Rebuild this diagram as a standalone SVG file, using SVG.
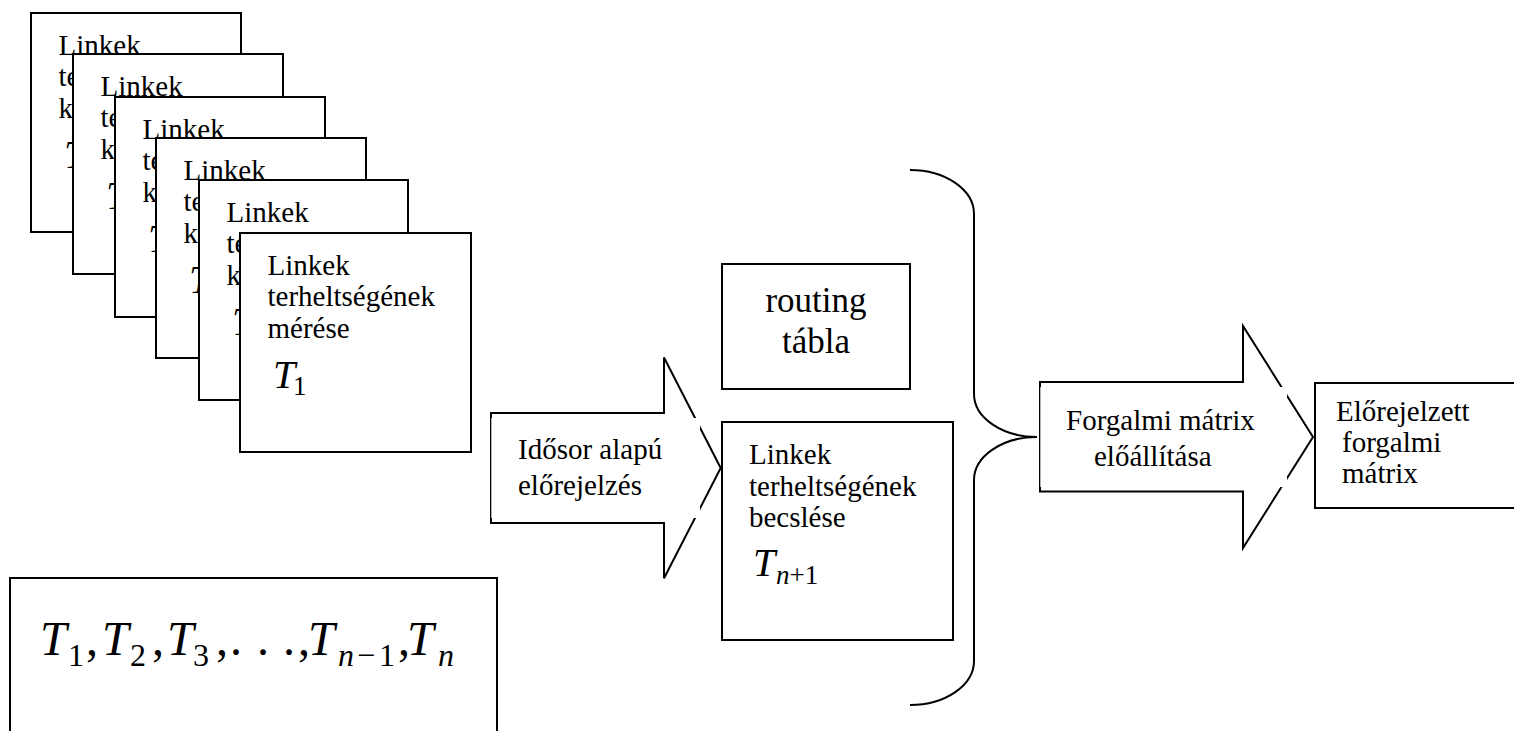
<svg xmlns="http://www.w3.org/2000/svg" width="1514" height="731" viewBox="0 0 1514 731">
  <style>
    .box { fill: #fff; stroke: #000; stroke-width: 2; }
    .line { fill: none; stroke: #000; stroke-width: 2; }
    .mask { fill: none; stroke: #fff; stroke-width: 4; }
    text { font-family: "Liberation Serif", "Times New Roman", serif; fill: #000; }
    .t { font-size: 29px; }
    .big { font-size: 35px; }
    .var { font-style: italic; font-size: 40px; }
    .sub { font-size: 27px; }
    .it { font-style: italic; }
    .fv { font-style: italic; font-size: 48px; }
    .fr { font-size: 48px; }
    .fs { font-size: 32px; }
  </style>

  <!-- stacked measurement sheets, back to front -->
  <g id="sheet-1">
    <rect class="box" x="31" y="13" width="210" height="219"/>
    <text class="t" x="58.5" y="54.5">Linkek</text>
    <text class="t" x="58.5" y="86">te</text>
    <text class="t" x="58.5" y="118">k</text>
    <text class="var" x="64" y="168">T</text>
  </g>
  <g id="sheet-2">
    <rect class="box" x="73" y="54" width="210" height="220"/>
    <text class="t" x="100.5" y="95.5">Linkek</text>
    <text class="t" x="100.5" y="127">te</text>
    <text class="t" x="100.5" y="159">k</text>
    <text class="var" x="106" y="209">T</text>
  </g>
  <g id="sheet-3">
    <rect class="box" x="115" y="97" width="210" height="220"/>
    <text class="t" x="142.5" y="138.5">Linkek</text>
    <text class="t" x="142.5" y="170">te</text>
    <text class="t" x="142.5" y="202">k</text>
    <text class="var" x="148" y="252">T</text>
  </g>
  <g id="sheet-4">
    <rect class="box" x="156" y="138" width="210" height="220"/>
    <text class="t" x="183.5" y="179.5">Linkek</text>
    <text class="t" x="183.5" y="211">te</text>
    <text class="t" x="183.5" y="243">k</text>
    <text class="var" x="189" y="293">T</text>
  </g>
  <g id="sheet-5">
    <rect class="box" x="199" y="180" width="209" height="220"/>
    <text class="t" x="226.5" y="221.5">Linkek</text>
    <text class="t" x="226.5" y="253">te</text>
    <text class="t" x="226.5" y="285">k</text>
    <text class="var" x="232" y="335">T</text>
  </g>
  <g id="sheet-6">
    <rect class="box" x="240" y="233" width="231" height="219"/>
    <text class="t" x="267.5" y="274.5">Linkek</text>
    <text class="t" x="267.5" y="306">terheltségének</text>
    <text class="t" x="267.5" y="338">mérése</text>
    <text class="var" x="273" y="388">T</text>
    <text class="sub" x="293" y="395">1</text>
  </g>

  <!-- time series box -->
  <g id="series">
    <rect class="box" x="10" y="578" width="487" height="200"/>
    <text y="655">
      <tspan class="fv" x="40">T</tspan>
      <tspan class="fs" x="68" y="666">1</tspan>
      <tspan class="fr" x="86" y="655">,</tspan>
      <tspan class="fv" x="102">T</tspan>
      <tspan class="fs" x="130" y="666">2</tspan>
      <tspan class="fr" x="152" y="655">,</tspan>
      <tspan class="fv" x="167">T</tspan>
      <tspan class="fs" x="193" y="666">3</tspan>
      <tspan class="fr" x="216" y="655">,</tspan>
      <tspan class="fr" x="230">.</tspan>
      <tspan class="fr" x="257">.</tspan>
      <tspan class="fr" x="283">.</tspan>
      <tspan class="fr" x="298">,</tspan>
      <tspan class="fv" x="308">T</tspan>
      <tspan class="fs it" x="338" y="666">n</tspan>
      <tspan class="fs" x="357" y="666">−</tspan>
      <tspan class="fs" x="379" y="666">1</tspan>
      <tspan class="fr" x="398" y="655">,</tspan>
      <tspan class="fv" x="407">T</tspan>
      <tspan class="fs it" x="438" y="666">n</tspan>
    </text>
  </g>

  <!-- routing table -->
  <g id="routing">
    <rect class="box" x="722" y="264" width="188" height="125"/>
    <text class="big" x="816" y="312" text-anchor="middle">routing</text>
    <text class="big" x="816" y="353" text-anchor="middle">tábla</text>
  </g>

  <!-- estimated link load -->
  <g id="estimate">
    <rect class="box" x="722" y="422" width="231" height="218"/>
    <text class="t" x="749" y="464">Linkek</text>
    <text class="t" x="749" y="495.5">terheltségének</text>
    <text class="t" x="749" y="527">becslése</text>
    <text class="var" x="753" y="576">T</text>
    <text class="sub" y="584"><tspan class="it" x="776">n</tspan><tspan>+1</tspan></text>
  </g>

  <!-- predicted matrix -->
  <g id="result">
    <rect class="box" x="1315" y="383" width="210" height="125"/>
    <text class="t" x="1336" y="421">Előrejelzett</text>
    <text class="t" x="1342" y="452">forgalmi</text>
    <text class="t" x="1342" y="483">mátrix</text>
  </g>

  <g id="connectors">
    <!-- forecasting block arrow -->
    <g id="arrow-forecast">
      <polygon class="box" points="491,413 664,413 664,357.5 720.7,468 664,578.3 664,523 491,523"/>
      <rect class="mask" x="493.3" y="420" width="204.7" height="96"/>
      <text class="t" x="518" y="459">Idősor alapú</text>
      <text class="t" x="518" y="495">előrejelzés</text>
    </g>
    <!-- curly brace joining routing table and estimate -->
    <path id="brace" class="line" d="M910,170 A64,44 0 0 1 974,214 L974,394 A63,43 0 0 0 1037,437 A63,43 0 0 0 974,480 L974,661 A64,44 0 0 1 910,705"/>
    <!-- matrix generation block arrow -->
    <g id="arrow-matrix">
      <polygon class="box" points="1040,382 1243,382 1243,326 1313,437 1243,548 1243,491.5 1040,491.5"/>
      <rect class="mask" x="1042.3" y="389" width="242.7" height="96"/>
      <text class="t" x="1066" y="430">Forgalmi mátrix</text>
      <text class="t" x="1094" y="466">előállítása</text>
    </g>
  </g>
</svg>
